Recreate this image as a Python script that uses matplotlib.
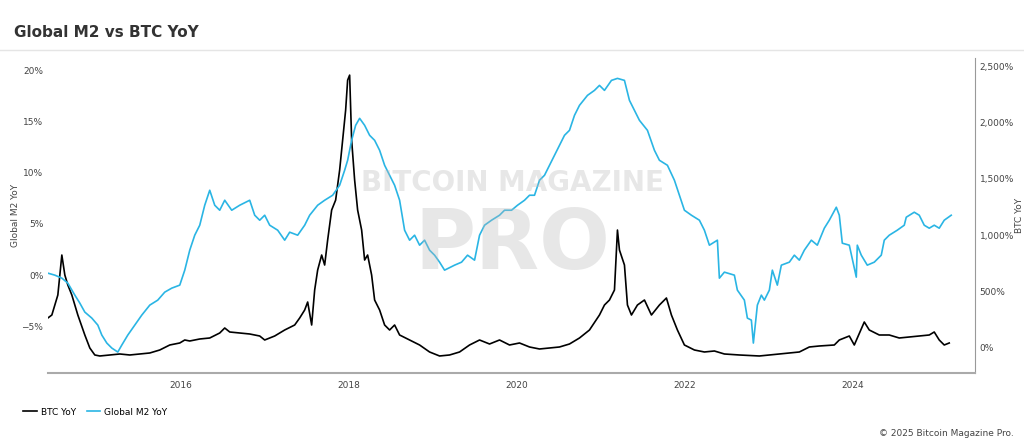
import matplotlib
matplotlib.use("Agg")
import matplotlib.pyplot as plt
import numpy as np

# pixel-read data converted: x (decimal year), values
m2_x_px = [48,55,62,68,75,80,85,92,98,102,107,112,118,122,128,135,142,150,158,165,172,180,185,190,195,200,205,210,215,220,225,232,240,250,255,260,265,270,278,285,290,298,305,310,318,325,333,340,345,348,352,356,360,365,370,375,380,385,390,395,400,405,410,415,420,425,430,435,440,445,455,462,468,475,480,485,492,500,505,512,518,525,530,535,540,545,550,555,560,565,570,575,580,588,595,600,605,612,618,625,630,635,640,648,655,660,668,675,680,685,692,700,705,710,718,720,725,735,738,745,748,752,754,758,762,765,770,773,778,782,790,795,800,805,812,818,825,830,837,840,843,850,857,858,862,868,875,882,885,890,898,905,907,915,920,925,930,935,940,945,952]
m2_y_px = [273,275,278,283,295,303,312,318,325,335,343,348,352,345,335,325,315,305,300,292,288,285,270,250,235,225,205,190,205,210,200,210,205,200,215,220,215,225,230,240,232,235,225,215,205,200,195,185,170,160,140,125,118,125,135,140,150,165,175,185,200,230,240,235,245,240,250,255,262,270,265,262,255,260,235,225,220,215,210,210,205,200,195,195,180,175,165,155,145,135,130,115,105,95,90,85,90,80,78,80,100,110,120,130,150,160,165,180,195,210,215,220,230,245,240,278,272,275,290,300,318,320,343,305,295,300,290,270,285,265,262,255,260,250,240,245,228,220,207,215,243,245,277,245,255,265,262,255,240,235,230,225,217,212,215,225,228,225,228,220,215]
btc_x_px = [48,52,55,58,62,65,68,72,78,85,90,95,100,110,120,130,140,150,160,170,180,185,190,200,210,220,225,230,240,250,260,265,275,285,295,300,305,308,312,315,318,322,325,328,332,336,340,343,346,348,350,352,355,358,362,365,368,372,375,380,385,390,395,400,410,420,430,440,450,460,470,480,490,500,510,520,530,540,550,560,570,580,590,600,605,610,615,618,620,625,628,632,638,645,652,660,667,672,678,685,695,705,715,725,740,760,780,800,810,820,835,840,850,855,865,870,880,890,900,910,920,930,935,940,945,950]
btc_y_px = [318,315,305,295,255,275,285,295,315,335,348,355,356,355,354,355,354,353,350,345,343,340,341,339,338,333,328,332,333,334,336,340,336,330,325,318,310,302,325,290,270,255,265,240,210,200,170,140,110,80,75,140,180,210,230,260,255,275,300,310,325,330,325,335,340,345,352,356,355,352,345,340,344,340,345,343,347,349,348,347,344,338,330,315,305,300,290,230,250,265,305,315,305,300,315,305,298,315,330,345,350,352,351,354,355,356,354,352,347,346,345,340,336,345,322,330,335,335,338,337,336,335,332,340,345,343]

m2_dates = [2016 + (x - 181) / 84 for x in m2_x_px]
m2_vals = [(275 - y) / 10.25 for y in m2_y_px]
btc_dates = [2016 + (x - 181) / 84 for x in btc_x_px]
btc_vals = [(348 - y) / 0.1128 for y in btc_y_px]

fig = plt.figure(figsize=(10.24, 4.47), dpi=100)
fig.patch.set_facecolor("white")
ax = fig.add_axes([0.047, 0.1655, 0.905, 0.7045])
ax2 = ax.twinx()
ax.set_zorder(ax2.get_zorder() + 1)
ax.patch.set_visible(False)

ax.plot(m2_dates, m2_vals, color="#2ab5e4", lw=1.2, label="Global M2 YoY")
ax2.plot(btc_dates, btc_vals, color="black", lw=1.2, label="BTC YoY")

ax.set_xlim(2014.42, 2025.46)
ax.set_ylim(-9.56, 21.2)
ax2.set_ylim(-222, 2571)
ax.set_xticks([2016, 2018, 2020, 2022, 2024])
ax.set_xticklabels(["2016", "2018", "2020", "2022", "2024"])
ax.set_yticks([-5, 0, 5, 10, 15, 20])
ax.set_yticklabels(["−5%", "0%", "5%", "10%", "15%", "20%"])
ax2.set_yticks([0, 500, 1000, 1500, 2000, 2500])
ax2.set_yticklabels(["0%", "500%", "1,000%", "1,500%", "2,000%", "2,500%"])
for a in (ax, ax2):
    a.tick_params(labelsize=6.5, colors="#444444", length=0)
    for s in a.spines.values():
        s.set_visible(False)
ax2.spines["right"].set_visible(True)
ax2.spines["right"].set_color("#999999")
ax2.spines["bottom"].set_visible(True)
ax2.spines["bottom"].set_color("#aaaaaa")
ax2.spines["bottom"].set_linewidth(1.5)
ax.tick_params(axis="x", pad=6)
ax.set_ylabel("Global M2 YoY", fontsize=6.5, color="#444444", labelpad=1)
ax2.set_ylabel("BTC YoY", fontsize=6.5, color="#444444", labelpad=1)

fig.text(0.5, 0.59, "BITCOIN MAGAZINE", ha="center", va="center", fontsize=20,
         fontweight="bold", color="#bbbbbb", alpha=0.35)
fig.text(0.5, 0.45, "PRO", ha="center", va="center", fontsize=60,
         fontweight="bold", color="#bbbbbb", alpha=0.35)

fig.text(0.014, 0.928, "Global M2 vs BTC YoY", fontsize=11, fontweight="bold", color="#333333", va="center")
fig.add_artist(plt.Line2D([0, 1], [0.888, 0.888], color="#e5e5e5", lw=1))

from matplotlib.lines import Line2D
handles = [Line2D([], [], color="black", lw=1.2), Line2D([], [], color="#2ab5e4", lw=1.2)]
fig.legend(handles, ["BTC YoY", "Global M2 YoY"], loc="center left", bbox_to_anchor=(0.015, 0.078),
           ncol=2, frameon=False, fontsize=6.5, handlelength=1.5, columnspacing=1.2, handletextpad=0.4)
fig.text(0.99, 0.025, "© 2025 Bitcoin Magazine Pro.", ha="right", fontsize=6.5, color="#444444")

fig.savefig("out.png", dpi=100)
